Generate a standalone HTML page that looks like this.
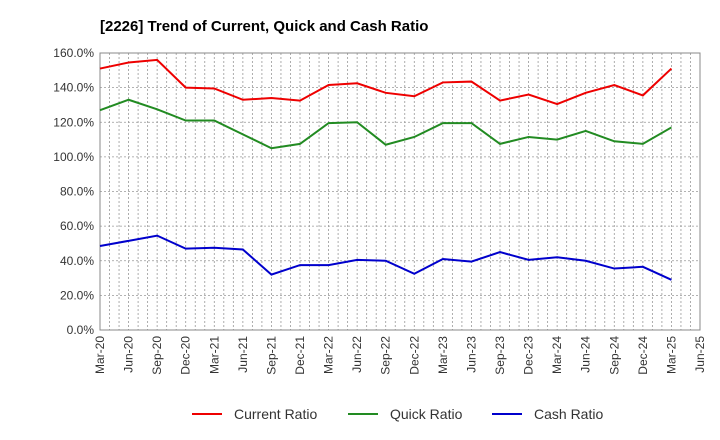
<!DOCTYPE html>
<html><head><meta charset="utf-8"><style>
body{margin:0;background:#fff;font-family:"Liberation Sans",Arial,sans-serif;}
svg{display:block}
</style></head><body>
<svg id="chart" width="720" height="440">
<text x="100" y="31" font-size="15" font-weight="bold" fill="#000">[2226]  Trend of Current, Quick and Cash Ratio</text>
<g id="grid"></g><g id="axes"></g><g id="series"></g>
<g id="legend"></g>
</svg>
<script>
const xLabels=["Mar-20","Jun-20","Sep-20","Dec-20","Mar-21","Jun-21","Sep-21","Dec-21","Mar-22","Jun-22","Sep-22","Dec-22","Mar-23","Jun-23","Sep-23","Dec-23","Mar-24","Jun-24","Sep-24","Dec-24","Mar-25","Jun-25"];
const yTicks=[0,20,40,60,80,100,120,140,160];
const currentRatio=[151,154.5,156,140,139.5,133,134,132.5,141.5,142.5,137,135,143,143.5,132.5,136,130.5,137,141.5,135.5,151];
const quickRatio=[127,133,127.5,121,121,113,105,107.5,119.5,120,107,111.5,119.5,119.5,107.5,111.5,110,115,109,107.5,117];
const cashRatio=[48.5,51.5,54.5,47,47.5,46.5,32,37.5,37.5,40.5,40,32.5,41,39.5,45,40.5,42,40,35.5,36.5,29];
const X0=100,X1=700,Y0=330,Y1=53;
const NS='http://www.w3.org/2000/svg';
const xq=i=>X0+i*(X1-X0)/(xLabels.length-1);
const y=v=>Y0-(v/160)*(Y0-Y1);
function mk(t,a,p){const e=document.createElementNS(NS,t);for(const k in a)e.setAttribute(k,a[k]);p.appendChild(e);return e;}
const grid=document.getElementById('grid'),axes=document.getElementById('axes'),ser=document.getElementById('series'),leg=document.getElementById('legend');
const months=(xLabels.length-1)*3;
for(let m=1;m<months;m++){const x=X0+m*(X1-X0)/months;
 const l=mk('line',{x1:x,x2:x,y1:Y1,y2:Y0,stroke:'#999','stroke-dasharray':'2,2','stroke-width':0.8},grid);
 }
yTicks.forEach(v=>{
 if(v>0&&v<160){const l=mk('line',{x1:X0,x2:X1,y1:y(v),y2:y(v),stroke:'#999','stroke-dasharray':'2,2','stroke-width':0.8},grid);
 }
 const t=mk('text',{x:X0-6,y:y(v)+4,'text-anchor':'end','font-size':12,fill:'#333'},axes);t.textContent=v.toFixed(1)+'%';
 
});
const fr=mk('rect',{x:X0,y:Y1,width:X1-X0,height:Y0-Y1,fill:'none',stroke:'#888'},axes);

xLabels.forEach((s,i)=>{const x=xq(i);
 const t=mk('text',{x:x+4,y:Y0+6,'text-anchor':'end','font-size':12,fill:'#333',transform:`rotate(-90 ${x+4} ${Y0+6})`},axes);t.textContent=s;
 });
[[currentRatio,'#e00','current-ratio-line'],[quickRatio,'#228b22','quick-ratio-line'],[cashRatio,'#00c','cash-ratio-line']].forEach(([d,c,n])=>{
 const p=mk('polyline',{points:d.map((v,i)=>xq(i)+','+y(v)).join(' '),fill:'none',stroke:c,'stroke-width':2},ser);
 });
[['Current Ratio','#e00',192],['Quick Ratio','#228b22',348],['Cash Ratio','#00c',492]].forEach(([s,c,x])=>{
 const l=mk('line',{x1:x,x2:x+30,y1:414,y2:414,stroke:c,'stroke-width':2},leg);
 
 const t=mk('text',{x:x+42,y:419,'font-size':14,fill:'#333'},leg);t.textContent=s;
 });
</script>
</body></html>
